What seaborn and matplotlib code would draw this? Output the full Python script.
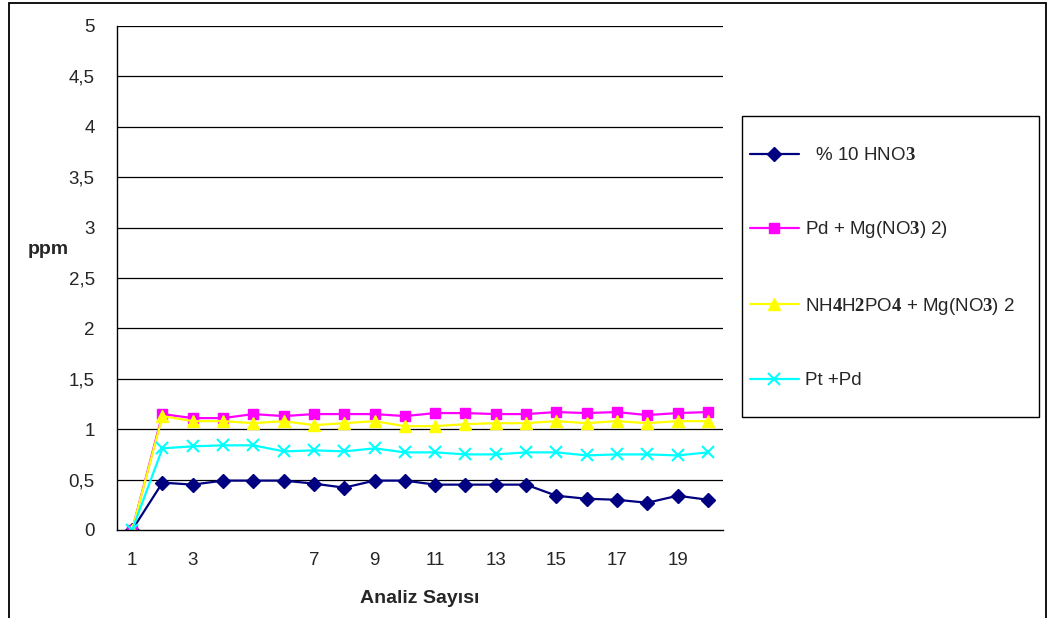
import matplotlib
matplotlib.use("Agg")
import matplotlib.pyplot as plt
from matplotlib.patches import Rectangle
import seaborn as sns
import pandas as pd

# Analysis number (x) and measured concentrations (ppm) for each modifier
analiz = list(range(1, 21))
hno3 = [0.00, 0.47, 0.45, 0.49, 0.49, 0.49, 0.46, 0.42, 0.49, 0.49,
        0.45, 0.45, 0.45, 0.45, 0.34, 0.31, 0.30, 0.27, 0.34, 0.30]
pd_mg = [0.00, 1.15, 1.11, 1.11, 1.15, 1.13, 1.15, 1.15, 1.15, 1.13,
         1.16, 1.16, 1.15, 1.15, 1.17, 1.16, 1.17, 1.14, 1.16, 1.17]
nh4_mg = [0.00, 1.13, 1.08, 1.08, 1.06, 1.08, 1.04, 1.06, 1.08, 1.03,
          1.03, 1.05, 1.06, 1.06, 1.08, 1.06, 1.08, 1.06, 1.08, 1.08]
pt_pd = [0.00, 0.81, 0.83, 0.84, 0.84, 0.78, 0.79, 0.78, 0.81, 0.77,
         0.77, 0.75, 0.75, 0.77, 0.77, 0.74, 0.75, 0.75, 0.74, 0.77]

series_labels = [
    "  % 10 HNO$\\mathbf{3}$",
    "Pd + Mg(NO$\\mathbf{3}$) 2)",
    "NH$\\mathbf{4}$H$\\mathbf{2}$PO$\\mathbf{4}$ + Mg(NO$\\mathbf{3}$) 2",
    "Pt +Pd",
]
x_tick_labels = ["1", "3", "7", "9", "11", "13", "15", "17", "19"]
x_tick_label_pos = [1, 3, 7, 9, 11, 13, 15, 17, 19]
y_ticks = [0, 0.5, 1, 1.5, 2, 2.5, 3, 3.5, 4, 4.5, 5]

sns.set_style("white")
plt.rcParams["font.family"] = ["Liberation Sans", "DejaVu Sans"]
plt.rcParams["mathtext.fontset"] = "custom"
plt.rcParams["mathtext.rm"] = "Liberation Sans"
plt.rcParams["mathtext.bf"] = "Liberation Serif:bold"

FS = 13.5

fig = plt.figure(figsize=(10.49, 6.18), dpi=100)
W, H = 1049, 618
ax = fig.add_axes([117 / W, 1 - 530 / H, (723 - 117) / W, (530 - 26) / H])

styles = [
    (hno3, "#000080", "D", 7),
    (pd_mg, "#FF00FF", "s", 7),
    (nh4_mg, "#FFFF00", "^", 8),
    (pt_pd, "#00FFFF", "x", 8),
]
for (vals, color, marker, ms), label in zip(styles, series_labels):
    df = pd.DataFrame({"Analiz": analiz, "ppm": vals})
    sns.lineplot(data=df, x="Analiz", y="ppm", ax=ax, color=color,
                 marker=marker, markersize=ms, markeredgecolor=color,
                 markeredgewidth=1.5 if marker == "x" else 1.0,
                 linewidth=1.6, label=label)

ax.set_xlim(0.5, 20.5)
ax.set_ylim(0, 5)
ax.set_yticks(y_ticks)
ax.set_yticklabels([f"{v:g}".replace(".", ",") for v in y_ticks], fontsize=FS)
for v in y_ticks[1:]:
    ax.axhline(v, color="black", linewidth=0.9, zorder=0)

# tick marks on category boundaries, labels on selected centers
ax.set_xticks([i + 0.5 for i in range(0, 21)])
ax.set_xticklabels([])
ax.set_xticks(x_tick_label_pos, minor=True)
ax.set_xticklabels(x_tick_labels, minor=True, fontsize=FS)
ax.tick_params(axis="x", which="major", direction="out", length=6, width=1, color="black")
ax.tick_params(axis="x", which="minor", length=0, pad=16)
ax.tick_params(axis="y", direction="out", length=7, width=1, color="black", pad=9)

for side in ["top", "right"]:
    ax.spines[side].set_visible(False)
for side in ["left", "bottom"]:
    ax.spines[side].set_color("black")
    ax.spines[side].set_linewidth(1.0)

ax.set_xlabel("Analiz Sayısı", fontsize=14, fontweight="bold", labelpad=15)
ax.set_ylabel("ppm", fontsize=14, fontweight="bold", rotation=0, va="center")
ax.yaxis.set_label_coords(-0.114, 0.556)

# legend box on the right
leg = ax.legend(loc="upper left", bbox_to_anchor=(750 / W, 1 - 147 / H),
                bbox_transform=fig.transFigure, frameon=False, fontsize=FS,
                handlelength=2.6, handletextpad=0.35, labelspacing=2.95,
                borderpad=0, borderaxespad=0)
fig.patches.append(Rectangle((742 / W, 1 - 417 / H), (1039 - 742) / W, (417 - 116) / H,
                             transform=fig.transFigure, fill=False,
                             edgecolor="black", linewidth=1.0))
# outer chart border
fig.patches.append(Rectangle((9 / W, -0.02), (1046 - 9) / W, 1.02 - 3 / H,
                             transform=fig.transFigure, fill=False,
                             edgecolor="black", linewidth=1.3))

fig.savefig("out.png", dpi=100)
